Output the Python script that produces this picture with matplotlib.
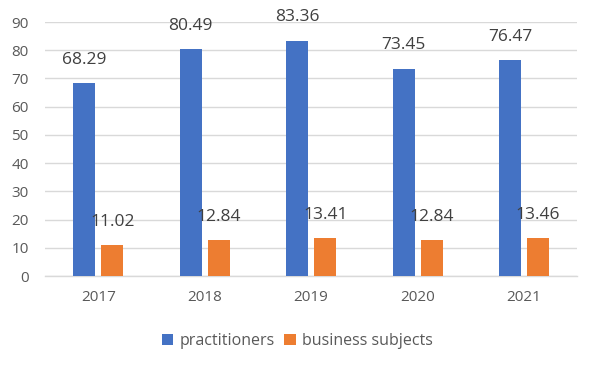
import matplotlib.pyplot as plt
import numpy as np

years = ["2017", "2018", "2019", "2020", "2021"]
practitioners = [68.29, 80.49, 83.36, 73.45, 76.47]
business_subjects = [11.02, 12.84, 13.41, 12.84, 13.46]

plt.rcParams['font.family'] = ['Open Sans', 'DejaVu Sans']

fig = plt.figure(figsize=(5.95, 3.70), dpi=100)
ax = fig.add_axes([0.076, 0.254, 0.894, 0.6865])

x = np.arange(len(years))
w = 0.207
off = 0.132
b1 = ax.bar(x - off, practitioners, w, color="#4472C4", label="practitioners", zorder=3)
b2 = ax.bar(x + off, business_subjects, w, color="#ED7D31", label="business subjects", zorder=3)

for bars in (b1, b2):
    for r in bars:
        v = r.get_height()
        ax.annotate(f"{v:.2f}", (r.get_x() + r.get_width() / 2, v),
                    xytext=(0, 11), textcoords="offset points",
                    ha="center", va="bottom", fontsize=12.5, color="#404040")

ax.set_xlim(-0.5, len(years) - 0.5)
ax.set_ylim(0, 90)
ax.set_yticks(range(0, 91, 10))
ax.set_xticks(x)
ax.set_xticklabels(years)
ax.tick_params(axis="both", length=0, labelsize=11, colors="#595959")
ax.tick_params(axis="y", pad=12)
ax.tick_params(axis="x", pad=10)
ax.grid(axis="y", color="#D9D9D9", linewidth=1, zorder=0)
for s in ("top", "right", "left"):
    ax.spines[s].set_visible(False)
ax.spines["bottom"].set_color("#D9D9D9")
ax.spines["bottom"].set_linewidth(1)

fig.legend(handles=[b1, b2], loc="center", bbox_to_anchor=(0.5, 0.078), ncol=2,
           frameon=False, fontsize=11.5, labelcolor="#595959",
           handlelength=0.7, handleheight=0.7, handletextpad=0.4, columnspacing=0.6)

fig.savefig("out.png", dpi=100)
